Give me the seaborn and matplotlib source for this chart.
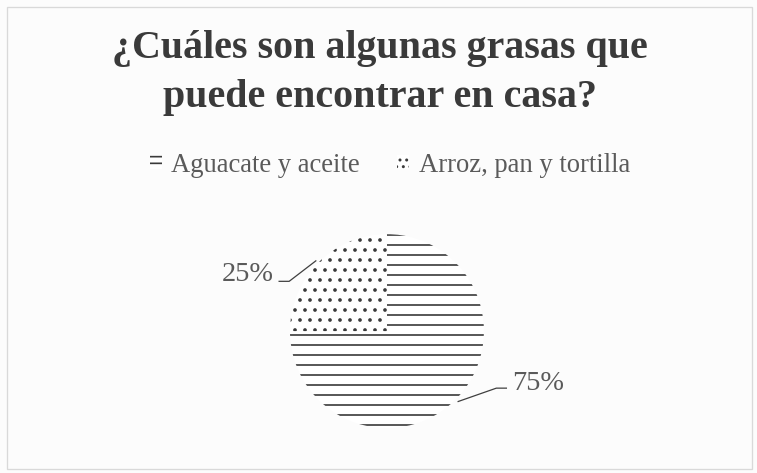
import numpy as np
import matplotlib
matplotlib.use("Agg")
import matplotlib.pyplot as plt
from matplotlib.patches import Patch, Rectangle
import seaborn as sns

categorias = ["Aguacate y aceite", "Arroz, pan y tortilla"]
porcentajes = [75, 25]
tramas = ["--", ".."]
tramas_leyenda = ["---", "..."]
titulo = "¿Cuáles son algunas grasas que\npuede encontrar en casa?"

DPI = 120
sns.set_theme(style="white")
plt.rcParams["font.family"] = ["Liberation Serif", "DejaVu Serif"]
plt.rcParams["hatch.linewidth"] = 1.0

fig = plt.figure(figsize=(757 / DPI, 473 / DPI), dpi=DPI, facecolor="#fcfcfc")
fig.patches.append(Rectangle((0.009, 0.008), 0.984, 0.977, transform=fig.transFigure,
                             fill=False, edgecolor="#d9d9d9", linewidth=0.8))

fig.text(0.502, 0.845, titulo, ha="center", va="center", fontsize=24,
         fontweight="bold", color="#3a3a3a", linespacing=1.42)

ax = fig.add_axes([0.383, 0.095, 0.2563, 0.410])
ax.set_facecolor("none")
wedges, _ = ax.pie(porcentajes, startangle=90, counterclock=False,
                   colors=["white", "white"], radius=1.0,
                   wedgeprops=dict(linewidth=0, edgecolor="#3a3a3a"))
for w, h in zip(wedges, tramas):
    w.set_hatch(h)
ax.set_xlim(-1, 1)
ax.set_ylim(-1, 1)
ax.set_aspect("equal")
ax.axis("off")

# leader lines: edge point -> elbow -> short horizontal tail, then the label
for w, p in zip(wedges, porcentajes):
    ang = np.deg2rad((w.theta1 + w.theta2) / 2)
    x0, y0 = 1.03 * np.cos(ang), 1.03 * np.sin(ang)
    s = 1 if x0 > 0 else -1
    if s > 0:
        x1, y1 = x0 + 0.40, y0 + 0.14
    else:
        x1, y1 = x0 - 0.28, y0 - 0.215
    x2 = x1 + s * 0.11
    ax.plot([x0, x1, x2], [y0, y1, y1], color="#3f3f3f", lw=0.75,
            clip_on=False, solid_capstyle="butt")
    ax.text(x2 + s * 0.05, y1 + (0.07 if s < 0 else 0.05), f"{p}%",
            ha="left" if s > 0 else "right",
            va="center", fontsize=17, color="#5a5a5a", clip_on=False)

handles = [Patch(facecolor="white", edgecolor="#3a3a3a", linewidth=0, hatch=h)
           for h in tramas_leyenda]
fig.legend(handles, categorias, loc="center", bbox_to_anchor=(0.515, 0.651), ncol=2,
           frameon=False, fontsize=16, handlelength=0.45, handleheight=0.45,
           handletextpad=0.35, columnspacing=1.4, labelcolor="#5a5a5a")

fig.savefig("out.png", dpi=DPI, facecolor=fig.get_facecolor())
